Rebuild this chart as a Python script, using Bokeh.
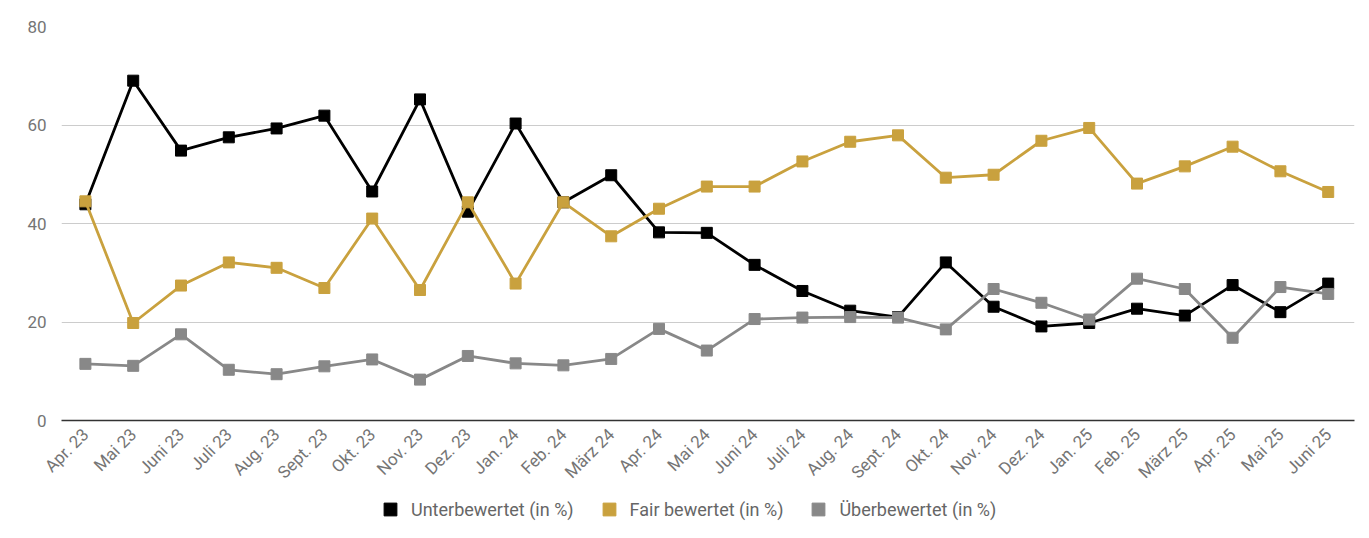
from bokeh.plotting import figure
from bokeh.models import Range1d, FixedTicker, Legend, LegendItem
from bokeh.layouts import column
from bokeh.embed import file_html
from bokeh.resources import INLINE
import math

months = ["Apr. 23", "Mai 23", "Juni 23", "Juli 23", "Aug. 23", "Sept. 23", "Okt. 23",
          "Nov. 23", "Dez. 23", "Jan. 24", "Feb. 24", "März 24", "Apr. 24", "Mai 24",
          "Juni 24", "Juli 24", "Aug. 24", "Sept. 24", "Okt. 24", "Nov. 24", "Dez. 24",
          "Jan. 25", "Feb. 25", "März 25", "Apr. 25", "Mai 25", "Juni 25"]

unter = [43.9, 69.0, 54.8, 57.5, 59.3, 61.9, 46.5, 65.2, 42.4, 60.3, 44.3, 49.8, 38.2, 38.1,
         31.6, 26.3, 22.3, 21.0, 32.1, 23.1, 19.1, 19.8, 22.7, 21.3, 27.5, 22.0, 27.8]
fair = [44.5, 19.8, 27.4, 32.1, 31.0, 26.9, 41.0, 26.5, 44.3, 27.8, 44.3, 37.4, 43.0, 47.5,
        47.5, 52.6, 56.6, 57.9, 49.3, 49.9, 56.8, 59.4, 48.1, 51.6, 55.6, 50.6, 46.4]
ueber = [11.5, 11.1, 17.5, 10.3, 9.4, 11.0, 12.4, 8.3, 13.1, 11.6, 11.2, 12.5, 18.6, 14.2,
         20.6, 20.9, 21.0, 20.9, 18.5, 26.7, 23.9, 20.5, 28.8, 26.7, 16.8, 27.1, 25.7]

series_names = ["Unterbewertet (in %)", "Fair bewertet (in %)", "Überbewertet (in %)"]
colors = ["#000000", "#c9a13e", "#888888"]
y_ticks = [0, 20, 40, 60, 80]

xs = list(range(len(months)))
x_range = Range1d(-0.5, len(months) - 0.45)

p = figure(width=1360, height=493, output_backend="svg", toolbar_location=None,
           x_range=x_range, y_range=Range1d(0, 80),
           min_border_left=61, min_border_right=6, min_border_top=26, min_border_bottom=73)
p.outline_line_color = None
p.background_fill_color = "white"
p.border_fill_color = "white"

p.xgrid.grid_line_color = None
p.ygrid.grid_line_color = "#cccccc"
p.ygrid.grid_line_width = 1
p.ygrid.ticker = FixedTicker(ticks=y_ticks[1:])

p.yaxis.ticker = FixedTicker(ticks=y_ticks)
p.yaxis.axis_line_color = None
p.yaxis.major_tick_line_color = None
p.yaxis.minor_tick_line_color = None
p.yaxis.major_label_text_font = "Roboto"
p.yaxis.major_label_text_font_size = "17px"
p.yaxis.major_label_text_color = "#757575"
p.yaxis.major_label_standoff = 9

p.xaxis.ticker = FixedTicker(ticks=xs)
p.xaxis.major_label_overrides = {i: m for i, m in enumerate(months)}
p.xaxis.axis_line_color = "#333333"
p.xaxis.axis_line_width = 1.5
p.xaxis.major_tick_line_color = None
p.xaxis.minor_tick_line_color = None
p.xaxis.major_label_orientation = math.pi / 4
p.xaxis.major_label_text_font = "Roboto"
p.xaxis.major_label_text_font_size = "17px"
p.xaxis.major_label_text_color = "#757575"
p.xaxis.major_label_standoff = 5

for vals, col in zip([unter, fair, ueber], colors):
    p.line(xs, vals, line_color=col, line_width=2.8)
    p.scatter(xs, vals, marker="square", size=11, fill_color=col, line_color=col)

# legend strip below the chart (its renderers use the same series, outside its view)
p2 = figure(width=1360, height=40, output_backend="svg", toolbar_location=None,
            x_range=x_range, y_range=Range1d(0, 1),
            x_axis_type=None, y_axis_type=None,
            min_border_left=61, min_border_right=6, min_border_top=0, min_border_bottom=0)
p2.outline_line_color = None
p2.grid.grid_line_color = None
p2.background_fill_color = "white"
p2.border_fill_color = "white"

items = []
for vals, name, col in zip([unter, fair, ueber], series_names, colors):
    r = p2.scatter(xs, vals, marker="square", size=11, fill_color=col, line_color=col)
    items.append(LegendItem(label=name, renderers=[r]))

legend = Legend(items=items, orientation="horizontal", location=(313, 8),
                glyph_width=32, glyph_height=32, label_standoff=5, spacing=19,
                label_text_font="Roboto", label_text_font_size="18px",
                label_text_color="#666666", border_line_color=None,
                background_fill_alpha=0, margin=0, padding=0)
p2.add_layout(legend, "center")

layout = column(p, p2, spacing=0)
open("out.html", "w").write(file_html(layout, INLINE))
